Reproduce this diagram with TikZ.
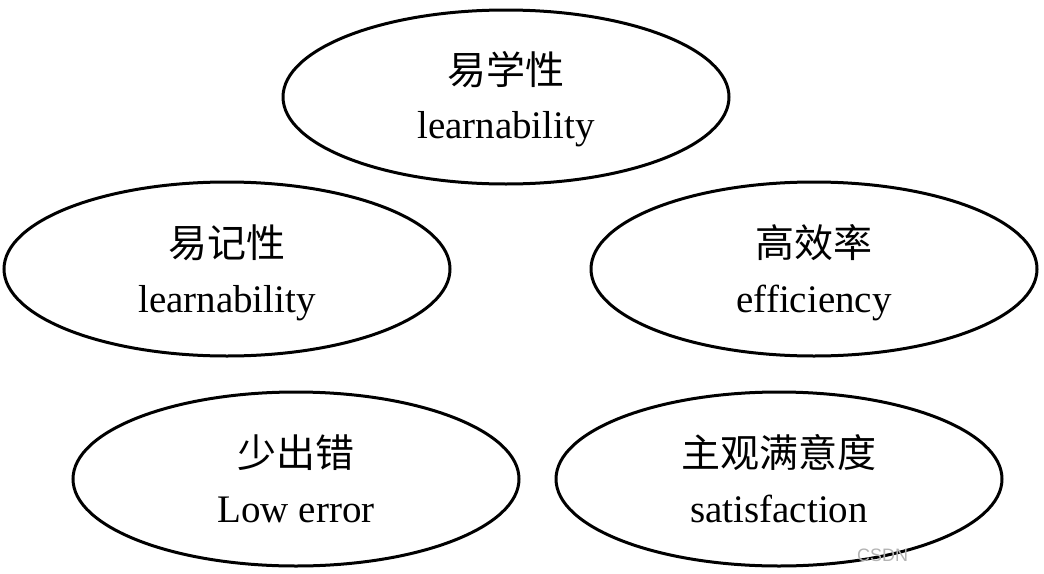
\documentclass[tikz,border=0pt]{standalone}
\usepackage{fontspec}
\setmainfont{Liberation Serif}
\newfontfamily\cjk{Noto Sans CJK SC}
\newfontfamily\wmfont{Liberation Sans}
\usetikzlibrary{shapes.geometric,calc}
\tikzset{
  oval/.style={draw=black, line width=3pt, ellipse, inner sep=0pt, minimum width=446pt, minimum height=174pt},
  zh/.style={anchor=base, inner sep=0pt, font=\cjk\fontsize{39}{39}\selectfont},
  en/.style={anchor=base, inner sep=0pt, font=\fontsize{39}{39}\selectfont},
}
\begin{document}
\begin{tikzpicture}[x=1pt,y=1pt]
\useasboundingbox (0,0) rectangle (1044,-573);
\node[oval] (top) at (506,-97) {};
\node[oval] (ml) at (227,-269) {};
\node[oval] (mr) at (814,-269) {};
\node[oval] (bl) at (296,-479) {};
\node[oval] (br) at (779,-479) {};
\node[zh] (topzh) at ($(top)+(0,13)$) {易学性};
\node[en] (topen) at ($(top)+(0,-41)$) {learnability};
\node[zh] (mlzh) at ($(ml)+(0,12)$) {易记性};
\node[en] (mlen) at ($(ml)+(0,-43)$) {learnability};
\node[zh] (mrzh) at ($(mr)+(0,12)$) {高效率};
\node[en] (mren) at ($(mr)+(0,-43)$) {efficiency};
\node[zh] (blzh) at ($(bl)+(0,12)$) {少出错};
\node[en] (blen) at ($(bl)+(0,-43)$) {Low error};
\node[zh] (brzh) at ($(br)+(0,12)$) {主观满意度};
\node[en] (bren) at ($(br)+(0,-43)$) {satisfaction};
\node[anchor=base west, inner sep=0pt, text=black!30, font=\wmfont\fontsize{18}{18}\selectfont] (wm) at (857,-561) {CSDN};
\end{tikzpicture}
\end{document}
